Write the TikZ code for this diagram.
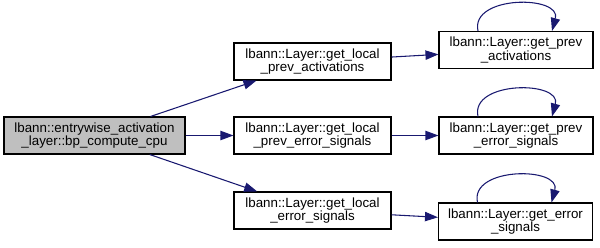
\documentclass[tikz,border=0pt]{standalone}
\usepackage{fontspec}
\setmainfont{Liberation Sans}
\usetikzlibrary{arrows.meta,calc}
\definecolor{edgeblue}{HTML}{191970}
\definecolor{focusgray}{HTML}{BFBFBF}
\tikzset{
  fn/.style={draw=black, line width=0.8pt, rectangle, inner sep=0pt,
    align=center, font=\fontsize{10}{10.2}\selectfont,
    minimum width=#1*0.75pt, minimum height=37*0.75pt},
  fn/.default=157,
  focus/.style={fn=181, fill=focusgray},
  call/.style={draw=edgeblue, line width=0.8pt,
    -{Triangle[length=9.75pt, width=7pt, fill=edgeblue]}},
}
\begin{document}
\begin{tikzpicture}[x=0.75pt, y=-0.75pt]
\useasboundingbox (0,0) rectangle (600,247);

\node[focus] (main) at (94.5,135.5) {lbann::entrywise\_activation\\\_layer::bp\_compute\_cpu};

\node[fn] (b1) at (312.5,61.5) {lbann::Layer::get\_local\\\_prev\_activations};
\node[fn] (b2) at (312.5,135.5) {lbann::Layer::get\_local\\\_prev\_error\_signals};
\node[fn] (b3) at (312.5,210.5) {lbann::Layer::get\_local\\\_error\_signals};

\node[fn=154] (c1) at (516,50) {lbann::Layer::get\_prev\\\_activations};
\node[fn=154] (c2) at (516,135.5) {lbann::Layer::get\_prev\\\_error\_signals};
\node[fn=154] (c3) at (515.5,221.5) {lbann::Layer::get\_error\\\_signals};

\draw[call] (main) -- (b1);
\draw[call] (main) -- (b2);
\draw[call] (main) -- (b3);
\draw[call] (b1) -- (c1);
\draw[call] (b2) -- (c2);
\draw[call] (b3) -- (c3);

\foreach \n in {c1,c2,c3}
  \draw[call] ($(\n.north)+(-38,0)$) .. controls ($(\n.north)+(-46,-36)$)
    and ($(\n.north)+(46,-36)$) .. ($(\n.north)+(36,0)$);
\end{tikzpicture}
\end{document}
